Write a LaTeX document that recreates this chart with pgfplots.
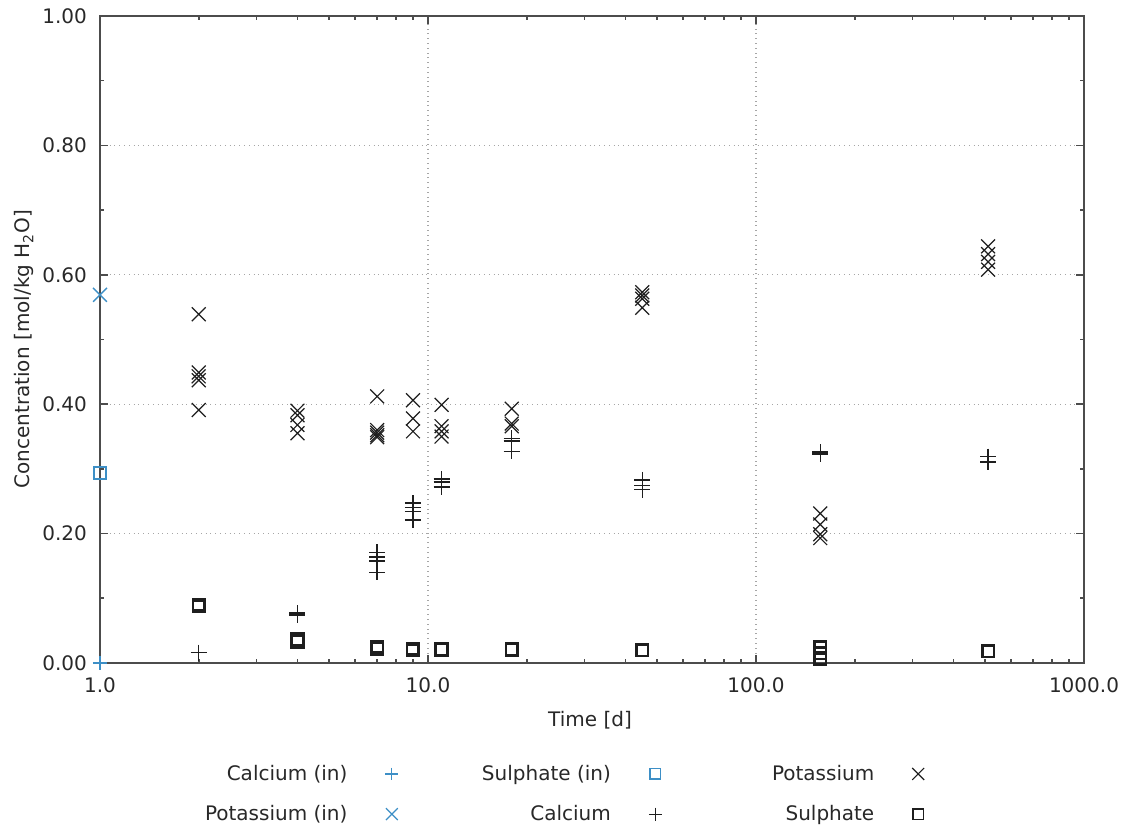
\documentclass[border=0pt]{standalone}
\usepackage{fontspec}
\setmainfont{DejaVu Sans}
\usepackage{pgfplots}
\pgfplotsset{compat=1.18}
\definecolor{inblue}{RGB}{61,143,198}
\definecolor{ink}{RGB}{30,30,30}
\definecolor{txt}{RGB}{40,40,40}
\newcommand{\lbl}{\fontsize{10}{12}\selectfont}
\newcommand{\lentry}[1]{\makebox[125.3pt][r]{#1\hspace{19pt}}}

\begin{document}
\begin{tikzpicture}
\begin{axis}[
  name=ax,
  scale only axis,
  width=492pt, height=323.5pt,
  xmode=log,
  xmin=1, xmax=1000, ymin=0, ymax=1,
  xtick={1,10,100,1000},
  xticklabels={1.0,10.0,100.0,1000.0},
  ytick={0,0.2,0.4,0.6,0.8,1},
  minor y tick num=1,
  yticklabel style={xshift=-3pt,
    /pgf/number format/fixed, /pgf/number format/fixed zerofill,
    /pgf/number format/precision=2, /pgf/number format/assume math mode=true},
  xticklabel style={yshift=-4pt},
  tick label style={font=\lbl, text=txt},
  grid=major,
  major grid style={dotted, gray!70, line width=0.55pt},
  axis line style={black!70, line width=0.8pt},
  tick style={black!70, line width=0.8pt},
  major tick length=4pt, minor tick length=2pt,
  axis on top,
  xlabel={Time [d]},
  ylabel={Concentration [mol/kg H\textsubscript{2}O]},
  label style={font=\lbl, text=txt},
  xlabel style={at={(axis description cs:0.498,-0.088)}, anchor=center},
  ylabel style={at={(axis description cs:-0.077,0.485)}, anchor=center},
  legend columns=3,
  legend cell align=right,
  legend plot pos=right,
  legend style={draw=none, fill=none, at={(0.4365,-0.2025)}, anchor=center,
    font=\lbl, text=txt, column sep=0pt, row sep=11pt, nodes={inner sep=0pt}},
]
% feed composition (in), plotted at t = 1 d
\addplot[only marks, mark=+, mark size=3.5pt, inblue, line width=0.8pt,
  legend image post style={mark size=3.2pt, line width=0.6pt}]
  coordinates {(1,0.0)};
\addlegendentry{\lentry{Calcium (in)}}
\addplot[only marks, mark=square, mark size=3pt, inblue, line width=1pt,
  legend image post style={mark size=2.6pt, line width=0.7pt}]
  coordinates {(1,0.294)};
\addlegendentry{\lentry{Sulphate (in)}}
% measured potassium
\addplot[only marks, mark=x, mark size=4.9pt, ink, line width=0.6pt,
  legend image post style={mark size=4.2pt, line width=0.6pt}]
  coordinates {
  (2,0.539) (2,0.449) (2,0.443) (2,0.437) (2,0.391)
  (4,0.390) (4,0.383) (4,0.368) (4,0.355)
  (7,0.412) (7,0.360) (7,0.356) (7,0.352) (7,0.349)
  (9,0.406) (9,0.378) (9,0.358)
  (11,0.399) (11,0.366) (11,0.358) (11,0.350)
  (18,0.393) (18,0.370) (18,0.366)
  (45,0.573) (45,0.568) (45,0.563) (45,0.549)
  (157,0.231) (157,0.214) (157,0.199) (157,0.193)
  (510,0.644) (510,0.632) (510,0.620) (510,0.608)
  };
\addlegendentry{\lentry{Potassium}}
\addplot[only marks, mark=x, mark size=4.9pt, inblue, line width=0.7pt,
  legend image post style={mark size=4.2pt, line width=0.6pt}]
  coordinates {(1,0.569)};
\addlegendentry{\lentry{Potassium (in)}}
% measured calcium
\addplot[only marks, mark=+, mark size=4pt, ink, line width=0.75pt,
  legend image post style={mark size=3.2pt, line width=0.6pt}]
  coordinates {
  (2,0.016)
  (4,0.077) (4,0.074)
  (7,0.171) (7,0.164) (7,0.158) (7,0.140)
  (9,0.247) (9,0.240) (9,0.234) (9,0.221)
  (11,0.284) (11,0.280) (11,0.272)
  (18,0.347) (18,0.343) (18,0.327)
  (45,0.283) (45,0.274) (45,0.268)
  (157,0.326) (157,0.323)
  (510,0.319) (510,0.311)
  };
\addlegendentry{\lentry{Calcium}}
% measured sulphate
\addplot[only marks, mark=square, mark size=2.9pt, ink, line width=1.3pt,
  legend image post style={mark size=2.6pt, line width=0.7pt}]
  coordinates {
  (2,0.090) (2,0.088)
  (4,0.037) (4,0.033)
  (7,0.025) (7,0.022)
  (9,0.022) (9,0.020)
  (11,0.021)
  (18,0.021)
  (45,0.020)
  (157,0.024) (157,0.015) (157,0.007)
  (510,0.018)
  };
\addlegendentry{\lentry{Sulphate}}
\end{axis}
\pgfresetboundingbox
\path[use as bounding box] ([shift={(-50pt,-83pt)}]ax.south west) rectangle ([shift={(21pt,8pt)}]ax.north east);
\end{tikzpicture}
\end{document}
